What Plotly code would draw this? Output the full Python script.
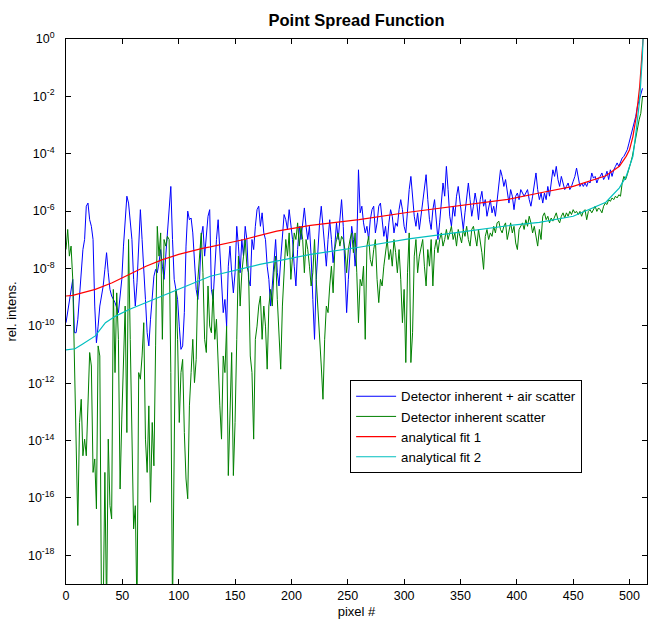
import numpy as np
import plotly.graph_objects as go

# pixel index at which the noisy curves were read (every 1.5 pixels)
pixel = np.arange(0, 512, 1.5)

# log10 of relative intensity, "Detector inherent + air scatter"
blue_log = [
    # 0 .. 127.5
    -9.89, -9.5, -9.08, -8.73, -8.38, -10.24, -10.24, -9.77, -8.96, -7.92,
    -7.34, -6.99, -5.83, -5.72, -6.30, -6.53, -6.99, -9.31, -10.59, -10.01,
    -9.31, -8.96, -8.61, -8.03, -7.45, -8.15, -8.73, -8.96, -9.08, -9.19,
    -9.37, -9.54, -8.96, -8.38, -7.22, -6.18, -5.48, -5.72, -6.41, -6.99,
    -8.38, -9.31, -8.50, -7.34, -5.95, -6.99, -7.92, -9.08, -10.24, -10.70,
    -9.77, -8.85, -8.27, -8.03, -8.15, -7.80, -7.34, -7.92, -8.38, -7.57,
    -6.76, -5.60, -5.14, -6.99, -8.38, -8.73, -9.08, -10.01, -10.82, -10.70,
    -9.54, -7.22, -6.00, -6.30, -6.24, -6.76, -7.57, -8.73, -9.08, -8.38,
    -6.88, -6.53, -7.57, -6.76, -6.18, -5.95,
    # 129 .. 259.5
    -8.73, -9.08, -7.92, -6.99, -6.30, -7.34, -8.50, -9.54, -9.08, -10.01,
    -7.92, -7.22, -8.15, -8.85, -8.15, -6.53, -7.22, -8.15, -6.99, -7.57,
    -6.53, -6.99, -8.38, -8.61, -6.99, -7.34, -6.53, -5.95, -5.83, -6.53,
    -6.06, -6.76, -6.99, -7.92, -8.38, -9.31, -8.61, -7.69, -6.99, -8.15,
    -8.61, -7.69, -6.76, -6.12, -6.30, -6.64, -5.95, -6.41, -6.99, -7.92,
    -8.61, -7.34, -6.53, -6.99, -6.30, -5.89, -6.53, -6.99, -6.53, -7.57,
    -9.08, -10.47, -8.38, -7.22, -6.41, -5.83, -6.53, -6.99, -7.92, -6.99,
    -6.30, -6.99, -7.80, -7.22, -6.41, -6.99, -6.30, -5.60, -6.53, -8.38,
    -9.54, -8.38, -7.34, -6.53, -6.99, -7.92, -7.22, -4.56,
    # 261 .. 391.5
    -6.06, -5.83, -6.41, -6.76, -6.53, -6.99, -6.30, -5.95, -5.83, -6.76,
    -6.41, -5.83, -5.72, -6.30, -6.88, -6.53, -7.11, -6.41, -5.95, -6.18,
    -6.76, -6.41, -6.53, -5.95, -5.60, -5.95, -6.53, -6.76, -5.83, -5.25,
    -4.79, -5.48, -6.18, -6.53, -6.06, -6.64, -6.18, -5.60, -5.14, -4.73,
    -5.60, -6.30, -6.64, -5.95, -5.60, -6.18, -6.99, -6.41, -5.60, -5.02,
    -5.48, -4.44, -5.25, -6.18, -6.53, -5.83, -6.18, -5.48, -5.14, -5.72,
    -6.18, -6.64, -6.06, -5.60, -5.02, -5.60, -6.18, -5.83, -5.37, -5.72,
    -6.30, -5.60, -5.31, -5.83, -5.60, -6.18, -5.83, -5.60, -6.06, -5.83,
    -6.18, -5.60, -4.90, -4.56, -4.79, -5.14, -4.90, -5.37,
    # 393 .. 511.5
    -5.72, -5.25, -5.48, -5.95, -5.48, -5.37, -5.60, -5.25, -5.37, -5.48,
    -5.37, -5.25, -5.60, -5.83, -5.48, -5.14, -4.67, -5.25, -5.60, -5.37,
    -5.72, -5.37, -5.60, -5.14, -5.48, -5.02, -4.56, -4.79, -4.44, -4.90,
    -5.14, -4.79, -5.02, -5.25, -5.14, -5.02, -5.25, -5.14, -4.96, -4.79,
    -4.50, -4.90, -5.14, -5.02, -5.14, -5.02, -5.14, -4.96, -5.02, -4.67,
    -4.85, -4.79, -5.02, -4.85, -4.79, -4.67, -4.90, -4.79, -4.61, -4.90,
    -4.56, -4.79, -4.56, -4.44, -4.32, -4.44, -4.32, -4.15, -4.09, -3.98,
    -3.86, -3.63, -3.40, -3.17, -2.93, -2.70, -2.35, -2.12, -1.89, -1.72,
]

# log10 of relative intensity, "Detector inherent scatter" (-20 = below plot)
green_log = [
    # 0 .. 127.5
    -7.34, -6.64, -7.57, -7.22, -8.38, -11.40, -14.41, -16.96, -13.37, -12.56,
    -14.53, -13.95, -14.53, -12.32, -10.93, -11.40, -15.11, -14.64, -16.38, -10.70,
    -11.05, -20.0, -20.0, -15.11, -20.0, -13.95, -16.27, -16.73, -8.73, -11.63,
    -8.85, -10.47, -15.69, -13.25, -11.63, -9.31, -13.72, -6.99, -10.47, -13.72,
    -17.08, -16.27, -20.0, -11.63, -11.86, -11.05, -9.89, -13.95, -15.11, -12.79,
    -16.15, -13.37, -14.88, -10.70, -6.53, -7.57, -6.76, -10.47, -6.99, -7.22,
    -6.88, -6.99, -11.63, -20.0, -12.79, -8.73, -10.47, -13.37, -11.63, -11.17,
    -13.72, -15.34, -16.03, -12.79, -11.63, -10.47, -11.98, -11.17, -8.38, -7.45,
    -6.76, -8.15, -10.47, -10.93, -8.61, -10.01,
    # 129 .. 259.5
    -10.24, -8.73, -10.47, -9.77, -11.63, -12.79, -13.95, -11.05, -11.63, -10.01,
    -15.22, -12.79, -10.93, -15.22, -13.37, -10.47, -7.57, -9.31, -8.15, -7.57,
    -6.99, -7.92, -8.15, -11.05, -11.63, -13.95, -10.47, -10.01, -9.31, -8.96,
    -10.47, -9.31, -10.01, -11.51, -9.31, -8.73, -9.31, -8.15, -7.57, -9.08,
    -10.47, -11.51, -9.31, -8.15, -6.99, -7.57, -6.76, -8.38, -7.57, -6.76,
    -6.99, -6.41, -7.22, -6.53, -6.99, -8.15, -6.99, -7.34, -7.92, -8.61,
    -8.15, -6.99, -8.38, -9.31, -10.47, -11.40, -12.56, -10.47, -9.31, -9.54,
    -8.61, -7.92, -8.85, -7.34, -6.99, -6.76, -7.22, -6.88, -6.99, -7.34,
    -8.15, -7.34, -6.99, -6.76, -7.45, -6.76, -8.15, -9.89,
    # 261 .. 391.5
    -8.38, -8.61, -7.92, -10.47, -7.22, -6.88, -7.69, -7.92, -7.34, -6.99,
    -8.38, -9.19, -8.38, -8.61, -7.92, -7.34, -6.99, -7.69, -7.34, -7.92,
    -6.99, -7.45, -8.15, -7.34, -8.38, -9.89, -8.73, -11.28, -8.15, -6.76,
    -11.28, -10.24, -7.57, -6.99, -8.15, -7.57, -7.22, -6.99, -7.92, -8.61,
    -7.34, -7.92, -6.99, -8.61, -7.34, -6.99, -7.45, -6.99, -6.76, -7.22,
    -6.99, -6.64, -6.99, -6.76, -6.53, -6.99, -6.76, -7.22, -6.64, -6.88,
    -7.11, -6.64, -6.88, -6.53, -6.99, -7.22, -6.64, -6.53, -6.88, -7.22,
    -6.64, -6.99, -7.45, -8.03, -6.88, -6.64, -6.99, -6.76, -6.88, -6.53,
    -6.76, -6.41, -6.35, -6.64, -6.76, -6.53, -6.41, -6.99,
    # 393 .. 511.5
    -6.64, -6.41, -6.76, -6.53, -7.11, -7.34, -6.64, -6.53, -6.41, -6.64,
    -6.30, -6.53, -6.18, -6.41, -6.76, -6.53, -6.88, -7.22, -6.64, -6.99,
    -6.18, -6.06, -6.30, -6.18, -6.41, -6.24, -6.35, -6.18, -6.06, -6.30,
    -6.41, -6.18, -6.06, -6.24, -6.06, -6.18, -6.01, -6.12, -5.95, -6.06,
    -6.01, -6.12, -6.01, -6.18, -6.01, -5.95, -6.30, -6.01, -5.95, -6.06,
    -5.95, -5.83, -6.01, -5.89, -5.95, -6.06, -5.83, -5.72, -5.77, -5.60,
    -5.66, -5.54, -5.60, -5.48, -5.54, -5.43, -5.48, -5.02, -4.79, -4.90,
    -4.73, -4.56, -4.32, -4.09, -3.74, -3.40, -3.05, -2.82, -2.59, -2.01,
]

# analytical fit 1 (red)
fit1_x = [0, 6, 26, 41, 56, 71, 85, 100, 121, 128, 158, 187, 217, 260, 304,
          348, 392, 420, 450, 479, 491, 497, 500, 503, 506, 509, 510.5, 512]
fit1_log = [-8.96, -8.94, -8.73, -8.50, -8.21, -7.92, -7.70, -7.51, -7.30, -7.25,
            -6.99, -6.70, -6.50, -6.30, -6.04, -5.81, -5.59, -5.37, -5.14, -4.77,
            -4.44, -4.09, -3.86, -3.40, -2.70, -1.66, -0.85, 0.0]

# analytical fit 2 (cyan)
fit2_x = [0, 8, 14.5, 26, 35, 44, 56, 71, 86, 100, 115, 128, 172, 217, 260,
          304, 348, 392, 420, 450, 479, 491, 497, 503, 506, 509, 511.4, 512]
fit2_log = [-10.84, -10.80, -10.64, -10.35, -9.89, -9.66, -9.43, -9.19, -8.96,
            -8.73, -8.50, -8.27, -7.86, -7.51, -7.26, -6.97, -6.74, -6.51, -6.39,
            -6.18, -5.69, -5.19, -4.79, -4.09, -3.17, -2.12, -0.60, 0.0]

series_names = ["Detector inherent + air scatter", "Detector inherent scatter",
                "analytical fit 1", "analytical fit 2"]
colors = ["#0000ff", "#008000", "#ff0000", "#00bfbf"]

ytick_exp = list(range(0, -20, -2))

font = "Arial, Liberation Sans, sans-serif"

fig = go.Figure()
fig.add_trace(go.Scatter(x=pixel, y=[10.0 ** v for v in blue_log], mode="lines",
                         name=series_names[0], line=dict(color=colors[0], width=1)))
fig.add_trace(go.Scatter(x=pixel, y=[10.0 ** v for v in green_log], mode="lines",
                         name=series_names[1], line=dict(color=colors[1], width=1)))
fig.add_trace(go.Scatter(x=fit1_x, y=[10.0 ** v for v in fit1_log], mode="lines",
                         name=series_names[2], line=dict(color=colors[2], width=1.2)))
fig.add_trace(go.Scatter(x=fit2_x, y=[10.0 ** v for v in fit2_log], mode="lines",
                         name=series_names[3], line=dict(color=colors[3], width=1.2)))

fig.update_layout(
    width=650, height=619,
    margin=dict(l=66, r=3, t=39, b=35, autoexpand=False),
    paper_bgcolor="white", plot_bgcolor="white",
    font=dict(family=font, size=12.5, color="black"),
    title=dict(text="<b>Point Spread Function</b>", x=(66 + 647) / 2 / 650,
               xanchor="center", y=1 - 20 / 619, yanchor="middle",
               font=dict(size=16.5, family=font, color="black")),
    showlegend=True,
    legend=dict(x=0.489, y=0.374, xanchor="left", yanchor="top",
                bgcolor="white", bordercolor="black", borderwidth=1,
                font=dict(size=13.2, family=font), tracegroupgap=0,
                itemwidth=40),
)
fig.update_xaxes(range=[0, 515.5], tickvals=list(range(0, 501, 50)),
                 ticks="inside", ticklen=5, tickcolor="black", automargin=False,
                 showline=True, linecolor="black", linewidth=1, mirror="ticks",
                 showgrid=False, zeroline=False,
                 title=dict(text="pixel #", standoff=5, font=dict(size=13)))
fig.update_yaxes(type="log", range=[-19, 0],
                 tickvals=[10.0 ** e for e in ytick_exp],
                 ticktext=["10<sup>%d</sup>" % e for e in ytick_exp],
                 ticks="inside", ticklen=5, tickcolor="black", automargin=False,
                 ticklabelstandoff=8,
                 showline=True, linecolor="black", linewidth=1, mirror="ticks",
                 showgrid=False, zeroline=False,
                 title=dict(text="rel. intens.", standoff=8, font=dict(size=13)))

fig.write_html("out.html", config={"displayModeBar": False},
               post_script="document.body.style.margin='0';"
                           "document.body.style.overflow='hidden';")
